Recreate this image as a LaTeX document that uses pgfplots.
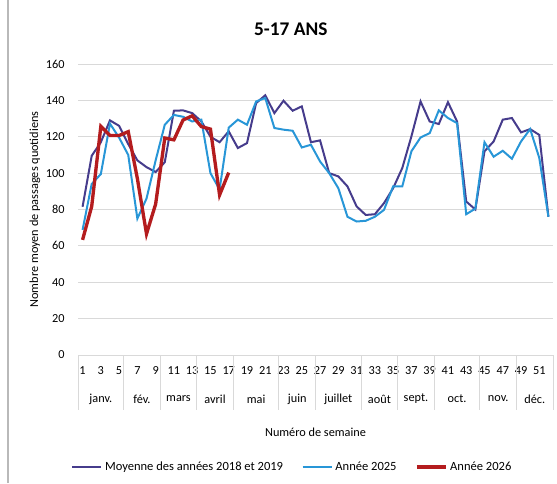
\documentclass[border=0pt]{standalone}
\usepackage{pgfplots}
\pgfplotsset{compat=1.18}
\usepackage{fontspec}
\setmainfont{Carlito}
\definecolor{cavg}{RGB}{70,60,140}
\definecolor{c25}{RGB}{40,150,215}
\definecolor{c26}{RGB}{180,28,30}
\definecolor{gridc}{RGB}{217,217,217}
\begin{document}
\begin{tikzpicture}
\path[use as bounding box] (0,0) rectangle (417.75pt,362.25pt);
\draw[gray!55, line width=1.2pt] (6pt,0) -- (6pt,362.25pt);
\begin{axis}[
  at={(58.5pt,96pt)}, anchor=south west,
  scale only axis, width=356.25pt, height=218.25pt,
  xmin=0.5, xmax=52.5, ymin=0, ymax=160,
  ytick={0,20,...,160},
  xtick={1,3,...,51},
  major tick length=0pt,
  axis line style={draw=none},
  ymajorgrids, grid style={gridc, line width=0.75pt},
  clip=false,
  font=\fontsize{9.2pt}{11pt}\selectfont,
  /pgf/number format/assume math mode=true,
  yticklabel style={anchor=east, xshift=-6.5pt},
  xticklabel style={anchor=center, yshift=-12pt},
  xlabel={Numéro de semaine},
  xlabel style={at={(axis description cs:0.5,-0.265)}, anchor=center},
  ylabel={Nombre moyen de passages quotidiens},
  ylabel style={at={(axis description cs:-0.0905,0.5)}, anchor=center},
  title={\bfseries 5-17 ANS},
  title style={at={(axis description cs:0.448,1.093)}, anchor=center, font=\fontsize{14.5pt}{17pt}\selectfont},
  legend columns=3,
  legend style={at={(axis description cs:0.452,-0.385)}, anchor=center, draw=none, fill=none,
    font=\fontsize{9.4pt}{11pt}\selectfont, /tikz/every even column/.append style={column sep=12pt},
    inner sep=0pt},
  legend image code/.code={\draw[#1] (0pt,0pt) -- (21.75pt,0pt);},
]
\addplot[cavg, line width=1.5pt] coordinates {
(1,81.5)(2,109.5)(3,117)(4,129)(5,126)(6,116)(7,107)(8,103.3)(9,100.6)(10,106)
(11,134.3)(12,134.5)(13,133)(14,128.5)(15,120)(16,117)(17,123)(18,113.8)(19,116.5)(20,138.5)
(21,142.8)(22,133)(23,139.8)(24,134.3)(25,136.7)(26,117)(27,118)(28,100)(29,98.2)(30,92.7)
(31,81.7)(32,77)(33,77.4)(34,83.5)(35,91.7)(36,102.8)(37,120.2)(38,139.4)(39,128.4)(40,127)
(41,139)(42,128.4)(43,84.4)(44,80)(45,112)(46,117.4)(47,129.4)(48,130.3)(49,122.4)(50,124.2)
(51,121)(52,76)};
\addlegendentry{Moyenne des années 2018 et 2019}
\addplot[c25, line width=1.5pt] coordinates {
(1,68.8)(2,94)(3,99.5)(4,127.2)(5,119.5)(6,110)(7,75)(8,86)(9,107)(10,126.6)
(11,132)(12,131)(13,128.4)(14,129.4)(15,100)(16,91)(17,125)(18,129.4)(19,126.6)(20,139.4)
(21,141.3)(22,124.8)(23,123.9)(24,123.3)(25,114.1)(26,115.6)(27,106.4)(28,100)(29,91.7)(30,76)
(31,73.4)(32,73.8)(33,76)(34,79.8)(35,92.7)(36,92.7)(37,112)(38,119.6)(39,122)(40,134.5)
(41,130.3)(42,127.5)(43,77.4)(44,80.5)(45,117)(46,109)(47,112.3)(48,107.9)(49,117.4)(50,124.2)
(51,108.3)(52,76)};
\addlegendentry{Année 2025}
\addplot[c26, line width=2.5pt] coordinates {
(1,63.3)(2,81.7)(3,125.7)(4,120.7)(5,120.7)(6,122.8)(7,97)(8,66.6)(9,83)(10,119.3)
(11,118.3)(12,129.2)(13,131.5)(14,125.6)(15,124.2)(16,88)(17,100.3)};
\addlegendentry{Année 2026}
\pgfplotsinvokeforeach{0.5,5.5,9.5,13.5,17.5,22.5,26.5,31.5,35.5,39.5,44.5,48.5,52.5}{
  \draw[gridc, line width=0.75pt] (axis cs:#1,0) -- ++(0pt,-41.25pt);
}
\node[anchor=center] at (axis cs:3,0) [yshift=-33pt] {janv.};
\node[anchor=center] at (axis cs:7.5,0) [yshift=-33pt] {fév.};
\node[anchor=center] at (axis cs:11.5,0) [yshift=-33pt] {mars};
\node[anchor=center] at (axis cs:15.5,0) [yshift=-33pt] {avril};
\node[anchor=center] at (axis cs:20,0) [yshift=-33pt] {mai};
\node[anchor=center] at (axis cs:24.5,0) [yshift=-33pt] {juin};
\node[anchor=center] at (axis cs:29,0) [yshift=-33pt] {juillet};
\node[anchor=center] at (axis cs:33.5,0) [yshift=-33pt] {août};
\node[anchor=center] at (axis cs:37.5,0) [yshift=-33pt] {sept.};
\node[anchor=center] at (axis cs:42,0) [yshift=-33pt] {oct.};
\node[anchor=center] at (axis cs:46.5,0) [yshift=-33pt] {nov.};
\node[anchor=center] at (axis cs:50.5,0) [yshift=-33pt] {déc.};
\end{axis}
\end{tikzpicture}
\end{document}
